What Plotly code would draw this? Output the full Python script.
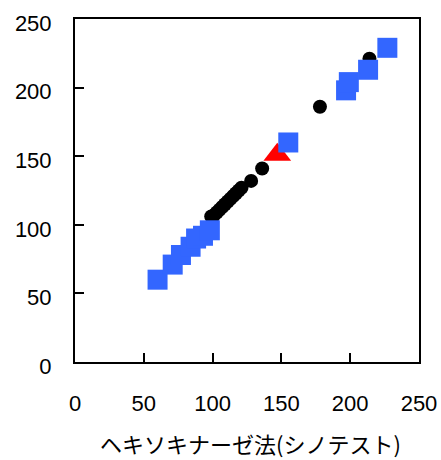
import plotly.graph_objects as go

# Glucose measurements: reference method (x) vs. comparison method (y)
circle_x = [99, 101, 103, 105, 107, 109, 111, 113, 115, 117, 119, 121, 128, 136, 178, 214]
circle_y = [106, 107, 109, 111, 113, 115, 117, 119, 121, 123, 125, 127, 132, 141, 186, 221]

square_x = [60, 71, 77, 84, 88, 93, 98, 155, 197, 199, 213, 227]
square_y = [60, 71, 78, 84, 90, 92, 96, 160, 198, 204, 213, 229]

triangle_x = [147]
triangle_y = [151]

x_title = "ヘキソキナーゼ法(シノテスト)"
tick_vals = [0, 50, 100, 150, 200, 250]

fig = go.Figure()
fig.add_trace(go.Scatter(
    x=circle_x, y=circle_y, mode="markers",
    marker=dict(symbol="circle", size=14, color="black", line=dict(width=0)),
))
fig.add_trace(go.Scatter(
    x=triangle_x, y=triangle_y, mode="markers",
    marker=dict(symbol="triangle-up", size=24, color="#ff0000", line=dict(width=0)),
))
fig.add_trace(go.Scatter(
    x=square_x, y=square_y, mode="markers",
    marker=dict(symbol="square", size=20, color="#3366ff", line=dict(width=0)),
))

axis_common = dict(
    range=[0, 250], tickvals=tick_vals, showgrid=False, zeroline=False,
    showline=True, linecolor="black", linewidth=2, mirror=True,
    ticks="inside", ticklen=9, tickwidth=2, tickcolor="black", automargin=False,
    tickfont=dict(family="Liberation Sans, Arial, sans-serif", size=22, color="black"),
)

fig.update_layout(
    width=441, height=460,
    margin=dict(l=75, r=22, t=19, b=98),
    paper_bgcolor="white", plot_bgcolor="white",
    showlegend=False,
    xaxis=dict(**axis_common, ticklabelstandoff=21),
    yaxis=dict(**axis_common, ticklabelstandoff=17, ticklabelshift=4),
    annotations=[dict(
        text=x_title, xref="paper", yref="paper", x=0.51, y=-0.236,
        xanchor="center", yanchor="middle", showarrow=False,
        font=dict(family="Noto Sans CJK JP, sans-serif", size=22, color="black"),
    )],
)

fig.write_html("out.html")
